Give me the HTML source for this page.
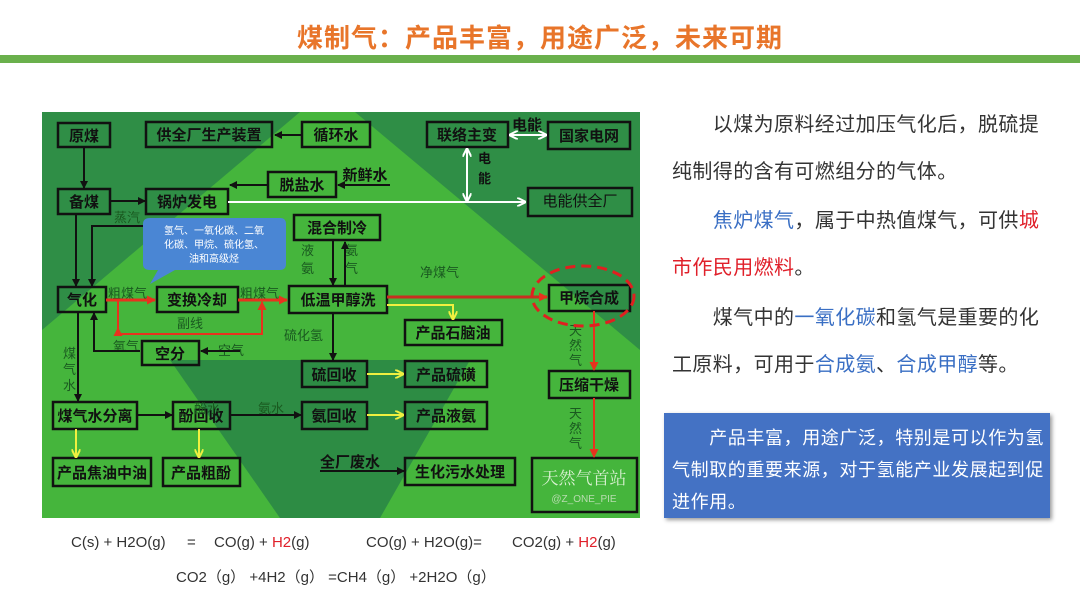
<!DOCTYPE html>
<html><head><meta charset="utf-8"><style>
html,body{margin:0;padding:0;background:#fff;}
body{width:1080px;height:607px;overflow:hidden;position:relative;font-family:"Liberation Sans","Noto Sans CJK SC",sans-serif;}
.t{position:absolute;left:672px;width:400px;font-size:20px;letter-spacing:0.4px;color:#333;line-height:24px;white-space:nowrap;}
.b{color:#3a6fc4}.r{color:#e0202a}
.bl{position:absolute;left:672px;font-size:18px;color:#fff;white-space:nowrap;letter-spacing:0.6px;}
</style></head><body>
<div style="position:absolute;left:0;top:18px;width:1080px;text-align:center;font-size:26px;font-weight:bold;color:#e8752a;letter-spacing:1px;">煤制气：产品丰富，用途广泛，未来可期</div>
<div style="position:absolute;left:0;top:55px;width:1080px;height:8px;background:#6ab04c;"></div>

<svg style="position:absolute;left:0;top:0" width="1080" height="607" font-family="Liberation Sans,Noto Sans CJK SC,sans-serif">
<defs>
<marker id="ak" markerWidth="8" markerHeight="8" refX="7" refY="4" orient="auto" markerUnits="userSpaceOnUse"><path d="M0,0 L8,4 L0,8 Z" fill="#111"/></marker>
<marker id="aw" markerWidth="9" markerHeight="9" refX="8" refY="4.5" orient="auto-start-reverse" markerUnits="userSpaceOnUse"><path d="M0,0 L9,4.5 L0,9" fill="none" stroke="#fff" stroke-width="2"/></marker>
<marker id="ar" markerWidth="9" markerHeight="9" refX="8" refY="4.5" orient="auto" markerUnits="userSpaceOnUse"><path d="M0,0 L9,4.5 L0,9 Z" fill="#e8321e"/></marker>
<marker id="ay" markerWidth="9" markerHeight="9" refX="8" refY="4.5" orient="auto" markerUnits="userSpaceOnUse"><path d="M0,0 L9,4.5 L0,9" fill="none" stroke="#f0f040" stroke-width="2"/></marker>
</defs>
<rect x="42" y="112" width="598" height="406" fill="#45b53c"/>
<polygon points="42,112 300,112 42,330" fill="#2f8e46"/>
<polygon points="355,112 640,112 640,350" fill="#2f8e46"/>
<polygon points="170,360 470,360 380,518 280,518" fill="#2a8745" opacity="0.9"/>
<g fill="none" stroke="#111" stroke-width="2.5">
<rect x="58" y="123" width="52" height="24"/><rect x="146" y="122" width="126" height="25"/>
<rect x="302" y="122" width="68" height="25"/><rect x="427" y="122" width="81" height="25"/>
<rect x="548" y="122" width="82" height="27"/><rect x="58" y="189" width="52" height="25"/>
<rect x="146" y="189" width="82" height="25"/><rect x="268" y="172" width="68" height="25"/>
<rect x="528" y="188" width="104" height="28"/><rect x="294" y="215" width="86" height="25"/>
<rect x="58" y="287" width="48" height="25"/><rect x="157" y="287" width="81" height="25"/>
<rect x="289" y="286" width="98" height="27"/><rect x="549" y="285" width="81" height="26"/>
<rect x="405" y="320" width="97" height="25"/><rect x="142" y="341" width="57" height="24"/>
<rect x="302" y="361" width="65" height="26"/><rect x="405" y="361" width="82" height="26"/>
<rect x="549" y="371" width="81" height="27"/><rect x="53" y="402" width="84" height="27"/>
<rect x="173" y="402" width="57" height="27"/><rect x="302" y="402" width="65" height="27"/>
<rect x="405" y="402" width="82" height="27"/><rect x="53" y="458" width="98" height="28"/>
<rect x="163" y="458" width="77" height="28"/><rect x="405" y="458" width="110" height="27"/>
<rect x="532" y="458" width="105" height="54"/>
</g>
<g font-size="15" font-weight="bold" fill="#111" text-anchor="middle">
<text x="84" y="141">原煤</text><text x="209" y="140">供全厂生产装置</text><text x="336" y="140">循环水</text>
<text x="467" y="140">联络主变</text><text x="589" y="141">国家电网</text><text x="84" y="207">备煤</text>
<text x="187" y="207">锅炉发电</text><text x="302" y="190">脱盐水</text><text x="337" y="233">混合制冷</text>
<text x="82" y="305">气化</text><text x="197" y="305">变换冷却</text><text x="338" y="305">低温甲醇洗</text>
<text x="589" y="303">甲烷合成</text><text x="453" y="338">产品石脑油</text><text x="170" y="359">空分</text>
<text x="334" y="380">硫回收</text><text x="446" y="380">产品硫磺</text><text x="589" y="390">压缩干燥</text>
<text x="95" y="421">煤气水分离</text><text x="201" y="421">酚回收</text><text x="334" y="421">氨回收</text>
<text x="446" y="421">产品液氨</text><text x="102" y="478">产品焦油中油</text><text x="201" y="478">产品粗酚</text>
<text x="460" y="477">生化污水处理</text>
<text x="365" y="180">新鲜水</text><text x="527" y="130">电能</text><text x="350" y="467">全厂废水</text>
</g>
<text x="580" y="206" font-size="15" fill="#111" text-anchor="middle">电能供全厂</text>
<text x="584" y="484" font-size="17" fill="#d8f0d0" text-anchor="middle" font-family="Liberation Serif,Noto Serif CJK SC,serif">天然气首站</text>
<text x="584" y="502" font-size="10" fill="#b8dcb0" text-anchor="middle">@Z_ONE_PIE</text>
<g font-size="13" fill="#1a5a20">
<text x="114" y="222">蒸汽</text><text x="108" y="298">粗煤气</text><text x="240" y="298">粗煤气</text>
<text x="177" y="328">副线</text><text x="113" y="351">氧气</text><text x="218" y="355">空气</text>
<text x="284" y="340">硫化氢</text><text x="420" y="277">净煤气</text><text x="194" y="413">酚水</text><text x="258" y="413">氨水</text>
<text x="301" y="255">液</text><text x="301" y="273">氨</text><text x="345" y="255">氨</text><text x="345" y="273">气</text>
<text x="63" y="358">煤</text><text x="63" y="374">气</text><text x="63" y="390">水</text>
<text x="569" y="335">天</text><text x="569" y="350">然</text><text x="569" y="365">气</text>
<text x="569" y="418">天</text><text x="569" y="433">然</text><text x="569" y="448">气</text>
<text x="478" y="163" fill="#111" font-weight="bold">电</text><text x="478" y="183" fill="#111" font-weight="bold">能</text>
</g>
<g stroke="#111" stroke-width="2" fill="none" marker-end="url(#ak)">
<path d="M302,135 H275"/><path d="M84,147 V188"/><path d="M110,201 H145"/><path d="M268,185 H230"/>
<path d="M390,185 H338"/><path d="M76,214 V286"/><path d="M150,226 H92 V286"/>
<path d="M333,240 V285"/><path d="M345,286 V242"/><path d="M140,351 H94 V313"/>
<path d="M240,351 H201"/><path d="M333,313 V360"/><path d="M78,312 V401"/>
<path d="M137,415 H172"/><path d="M230,415 H301"/><path d="M320,471 H404"/>
</g>
<g stroke="#fff" stroke-width="2" fill="none">
<path d="M228,202 H525" marker-end="url(#aw)"/>
<path d="M510,135 H546" marker-start="url(#aw)" marker-end="url(#aw)"/>
<path d="M467,149 V201" marker-start="url(#aw)" marker-end="url(#aw)"/>
</g>
<g stroke="#e8321e" stroke-width="3" fill="none">
<path d="M106,300 H155" marker-end="url(#ar)"/><path d="M238,300 H287" marker-end="url(#ar)"/>
<path d="M387,297 H547" marker-end="url(#ar)" stroke="#c83020"/>
<path d="M118,300 V334 H262 V302" stroke-width="2"/><path d="M118,334 V328" marker-end="url(#ar)" stroke-width="2"/>
<path d="M262,310 V302" marker-end="url(#ar)" stroke-width="2"/>
<path d="M594,311 V370" stroke-width="2" marker-end="url(#ar)"/><path d="M594,398 V457" stroke-width="2" marker-end="url(#ar)"/>
</g>
<ellipse cx="583" cy="296" rx="51" ry="30" fill="none" stroke="#e02020" stroke-width="3" stroke-dasharray="10,6"/>
<g stroke="#f0f040" stroke-width="2" fill="none" marker-end="url(#ay)">
<path d="M387,305 H453 V319"/><path d="M367,374 H403"/><path d="M367,415 H403"/>
<path d="M76,429 V457"/><path d="M199,429 V457"/>
</g>
<path d="M150,218 H280 Q286,218 286,224 V264 Q286,270 280,270 H175 L150,284 L158,270 H150 Q143,270 143,264 V224 Q143,218 150,218 Z" fill="#4a86d4"/>
<g font-size="10" fill="#fff" text-anchor="middle"><text x="214" y="234">氢气、一氧化碳、二氧</text><text x="214" y="248">化碳、甲烷、硫化氢、</text><text x="214" y="262">油和高级烃</text></g>
<g font-size="15" fill="#333">
<text x="71" y="547">C(s) + H2O(g)</text>
<text x="187" y="547">=</text>
<text x="214" y="547">CO(g) + <tspan fill="#e0202a">H2</tspan>(g)</text>
<text x="366" y="547">CO(g) + H2O(g)=</text>
<text x="512" y="547">CO2(g) + <tspan fill="#e0202a">H2</tspan>(g)</text>
<text x="176" y="582">CO2（g） +4H2（g） =CH4（g） +2H2O（g）</text>
</g>
</svg>

<div class="t" style="top:113px;">　　以煤为原料经过加压气化后，脱硫提</div>
<div class="t" style="top:160px;">纯制得的含有可燃组分的气体。</div>
<div class="t" style="top:209px;">　　<span class="b">焦炉煤气</span>，属于中热值煤气，可供<span class="r">城</span></div>
<div class="t" style="top:256px;"><span class="r">市作民用燃料</span>。</div>
<div class="t" style="top:306px;">　　煤气中的<span class="b">一氧化碳</span>和氢气是重要的化</div>
<div class="t" style="top:353px;">工原料，可用于<span class="b">合成氨</span>、<span class="b">合成甲醇</span>等。</div>
<div style="position:absolute;left:664px;top:413px;width:386px;height:105px;background:#4472c4;box-shadow:2px 2px 4px #999;"></div>
<div class="bl" style="top:424px;">　　产品丰富，用途广泛，特别是可以作为氢</div>
<div class="bl" style="top:456px;">气制取的重要来源，对于氢能产业发展起到促</div>
<div class="bl" style="top:488px;">进作用。</div>
</body></html>
